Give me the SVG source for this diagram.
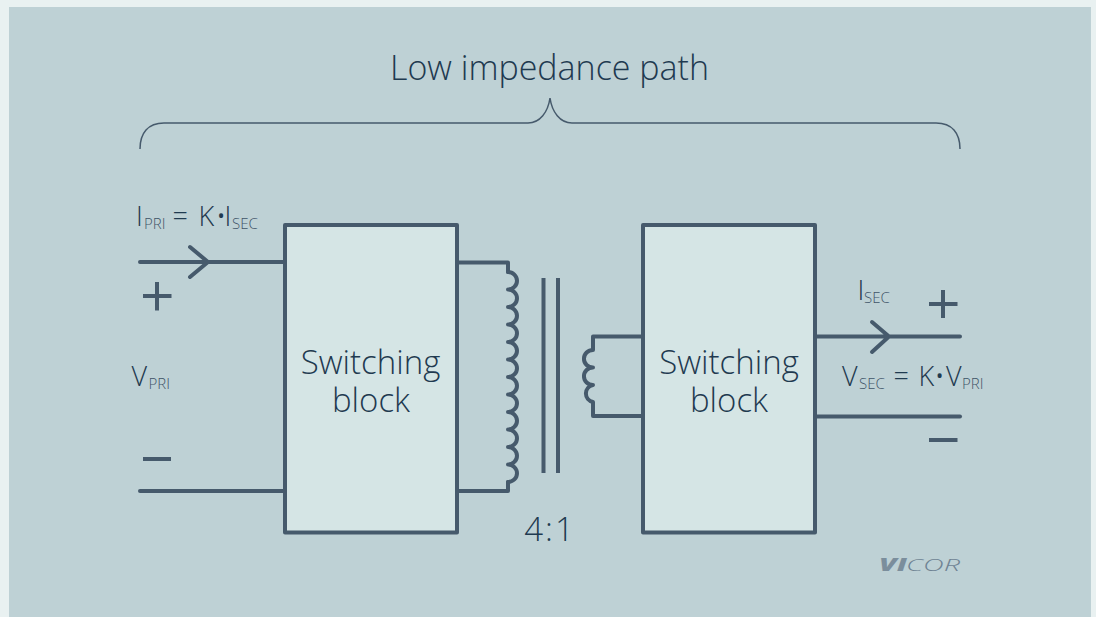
<svg xmlns="http://www.w3.org/2000/svg" width="1096" height="617" viewBox="0 0 1096 617">
<style>
text{font-family:"Open Sans","Noto Sans","Liberation Sans",sans-serif;font-weight:300;fill:#1f3a50}
.w{fill:none;stroke:#465a6c;stroke-width:4;stroke-linecap:round;stroke-linejoin:round}
.box{fill:#d5e5e5;stroke:#465a6c;stroke-width:4;stroke-linejoin:round}
.s{font-size:15px;fill:#3e5468}
.m{font-size:27px}
.b{font-size:33px;text-anchor:middle}
</style>
<rect width="1096" height="617" fill="#e9f1f1"/>
<rect x="9" y="7" width="1082" height="610" fill="#bed1d5"/>
<text x="549.500" y="80" text-anchor="middle" style="font-size:34px">Low impedance path</text>
<g id="connectors">
<path d="M140 149C140 133 148 123 164 123H528C540 123 548 112 550 98C552 112 560 123 572 123H936C952 123 960 133 960 149" fill="none" stroke="#465a6c" stroke-width="1.500"/>
<path class="w" d="M140 262H285M190 247L208 262L190 277"/>
<path class="w" d="M140 491H285"/>
<path class="w" d="M458 262.500H508V272"/>
<path class="w" d="M508 272A9 8.750 0 0 1 508 289.500A9 8.750 0 0 1 508 307A9 8.750 0 0 1 508 324.500A9 8.750 0 0 1 508 342A9 8.750 0 0 1 508 359.500A9 8.750 0 0 1 508 377A9 8.750 0 0 1 508 394.500A9 8.750 0 0 1 508 412A9 8.750 0 0 1 508 429.500A9 8.750 0 0 1 508 447A9 8.750 0 0 1 508 464.500A9 8.750 0 0 1 508 482"/>
<path class="w" d="M508 482V491H458"/>
<path class="w" style="stroke-linecap:butt" d="M543.500 278V473M558 278V473"/>
<path class="w" d="M643 336.500H593V350A9 8.700 0 0 0 593 367.500A9 8.700 0 0 0 593 385A9 8.700 0 0 0 593 402V416H643"/>
<path class="w" d="M815 336.500H960M872 322L889 336.500L872 352"/>
<path class="w" d="M815 416.500H960"/>
<path class="w" style="stroke-linecap:butt" d="M143 296H171.500M157 282V310.500"/>
<path class="w" style="stroke-linecap:butt" d="M143 459H171"/>
<path class="w" style="stroke-linecap:butt" d="M929 304H957.500M943 290V318"/>
<path class="w" style="stroke-linecap:butt" d="M929 440H957.500"/>
</g>
<g id="block-left"><rect class="box" x="285" y="225" width="172" height="307.500"/><text class="b" x="370.500" y="374"><tspan x="370.500">Switching</tspan><tspan x="371" dy="38">block</tspan></text></g>
<g id="block-right"><rect class="box" x="643" y="225" width="172" height="307.500"/><text class="b" x="729" y="374"><tspan x="729">Switching</tspan><tspan x="729" dy="38">block</tspan></text></g>
<g id="labels">
<text x="136" y="226" class="m">I</text><text x="144" y="229" class="s">PRI</text><text x="172.500" y="226" class="m">=</text><text x="198.500" y="226" class="m">K</text><text x="216" y="226" class="m">•</text><text x="224.500" y="226" class="m">I</text><text x="232" y="229" class="s">SEC</text>
<text x="131.500" y="386" class="m">V</text><text x="148.500" y="389" class="s">PRI</text>
<text x="857.500" y="300" class="m">I</text><text x="864" y="303" class="s">SEC</text>
<text x="842" y="386" class="m">V</text><text x="859" y="389" class="s">SEC</text><text x="893.500" y="386" class="m">=</text><text x="918.500" y="386" class="m">K</text><text x="934.500" y="386" class="m">•</text><text x="946" y="386" class="m">V</text><text x="962" y="389" class="s">PRI</text>
<text x="550" y="541" text-anchor="middle" style="font-size:33px;letter-spacing:2px">4:1</text>
</g>
<g id="logo" font-style="italic"><text x="879" y="571" textLength="28" lengthAdjust="spacingAndGlyphs" style="font-size:17px;font-weight:800;fill:#7b8e9c">VI</text><text x="906" y="571" textLength="54" lengthAdjust="spacingAndGlyphs" style="font-size:17px;font-weight:300;fill:#6f8393">COR</text></g>
</svg>
